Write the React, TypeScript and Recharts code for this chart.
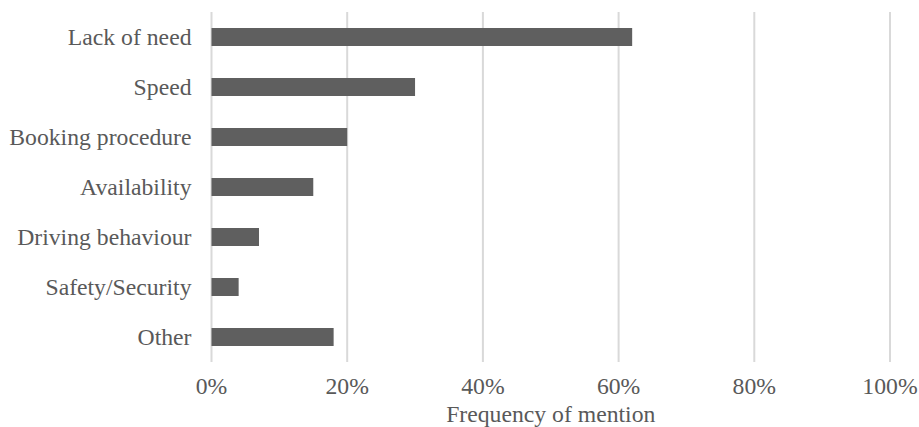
import { Bar, BarChart, CartesianGrid, XAxis, YAxis } from "recharts";

const reasons = [
    "Lack of need",
    "Speed",
    "Booking procedure",
    "Availability",
    "Driving behaviour",
    "Safety/Security",
    "Other",
];

const mentionShare = [62, 30, 20, 15, 7, 4, 18];

const shareTicks = [0, 20, 40, 60, 80, 100];

const data = reasons.map((reason, i) => ({ reason, share: mentionShare[i] }));

const textColor = "#595959";
const fontFamily = '"Liberation Serif", "Times New Roman", serif';
const fontSize = 23.7;

export default function App() {
    return (
        <div style={{ position: "absolute", left: 0, top: 0, background: "#fff" }}>
            <BarChart
                width={919}
                height={427}
                data={data}
                layout="vertical"
                margin={{ top: 12, right: 29, bottom: 0, left: 0 }}
                barCategoryGap={0}
            >
                <CartesianGrid horizontal={false} stroke="#d9d9d9" strokeWidth={2} />
                <XAxis
                    type="number"
                    domain={[0, 100]}
                    ticks={shareTicks}
                    tickFormatter={(value: number) => `${value}%`}
                    axisLine={false}
                    tickLine={false}
                    tickSize={6}
                    tickMargin={9}
                    height={65}
                    tick={{ fill: textColor, fontSize, fontFamily }}
                    label={{
                        value: "Frequency of mention",
                        position: "insideBottom",
                        offset: 5.5,
                        fill: textColor,
                        fontSize,
                        fontFamily,
                    }}
                />
                <YAxis
                    type="category"
                    dataKey="reason"
                    width={211.5}
                    axisLine={false}
                    tickLine={false}
                    tickSize={6}
                    tickMargin={14}
                    interval={0}
                    tick={{ fill: textColor, fontSize, fontFamily }}
                />
                <Bar dataKey="share" fill="#5f5f5f" barSize={18} isAnimationActive={false} />
            </BarChart>
        </div>
    );
}
